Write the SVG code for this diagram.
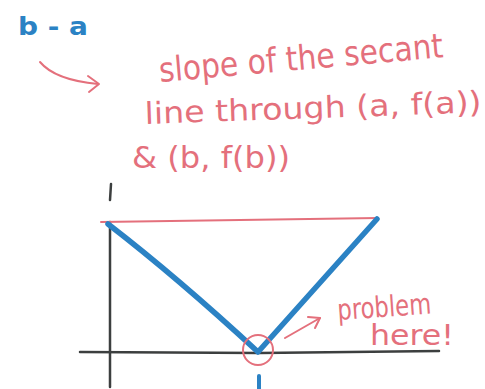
<svg xmlns="http://www.w3.org/2000/svg" width="485" height="389" viewBox="0 0 485 389">
<style>
.red{fill:none;stroke:#e4707c;stroke-linecap:round;stroke-linejoin:round}
.blue{fill:none;stroke:#2b82c4;stroke-linecap:round;stroke-linejoin:round}
.axis{fill:none;stroke:#3c3f3f;stroke-width:2.5;stroke-linecap:round}
.rt{font-family:"DejaVu Sans","Liberation Sans",sans-serif;fill:#e4707c}
.bt{font-family:"DejaVu Sans","Liberation Sans",sans-serif;fill:#2b82c4;font-weight:bold}
</style>
<rect width="485" height="389" fill="#ffffff"/>
<g id="axes">
<path class="axis" d="M110 222 L110 387"/>
<path class="axis" d="M111 184 L110 200" stroke-width="3"/>
<path class="axis" d="M80 352 L260 353 L439 351"/>
</g>
<g id="label-ba">
<text class="bt" x="18" y="35" font-size="24" textLength="70" lengthAdjust="spacingAndGlyphs">b - a</text>
</g>
<g id="notes">
<text class="rt" x="160" y="82" font-size="34" textLength="285" lengthAdjust="spacingAndGlyphs" transform="rotate(-5 160 82)">slope of the secant</text>
<text class="rt" x="145" y="124" font-size="30" textLength="337" lengthAdjust="spacingAndGlyphs" transform="rotate(-2 145 124)">line through (a, f(a))</text>
<text class="rt" x="132" y="168" font-size="30" textLength="158" lengthAdjust="spacingAndGlyphs">&amp; (b, f(b))</text>
<text class="rt" x="338" y="320" font-size="29" textLength="94" lengthAdjust="spacingAndGlyphs" transform="rotate(-4 338 320)">problem</text>
<text class="rt" x="370" y="345" font-size="29" textLength="84" lengthAdjust="spacingAndGlyphs">here!</text>
</g>
<g id="connectors">
<path class="red" stroke-width="2" d="M40 62 Q55 80 98 84"/>
<path class="red" stroke-width="2" d="M88 76 L99 84 L89 92"/>
<path class="red" stroke-width="2" d="M285 338 L320 318"/>
<path class="red" stroke-width="2" d="M308 317 L320 318 L315 328"/>
</g>
<g id="secant">
<path class="red" stroke-width="2" d="M101 222 L240 220 L378 218"/>
</g>
<g id="function">
<path class="blue" stroke-width="5.5" d="M108 224 Q178 278 258 352 L377 219"/>
<path class="blue" stroke-width="4" d="M259 376 L259 389"/>
</g>
<g id="problem-circle">
<circle class="red" stroke-width="2" cx="258" cy="350" r="15"/>
</g>
</svg>
